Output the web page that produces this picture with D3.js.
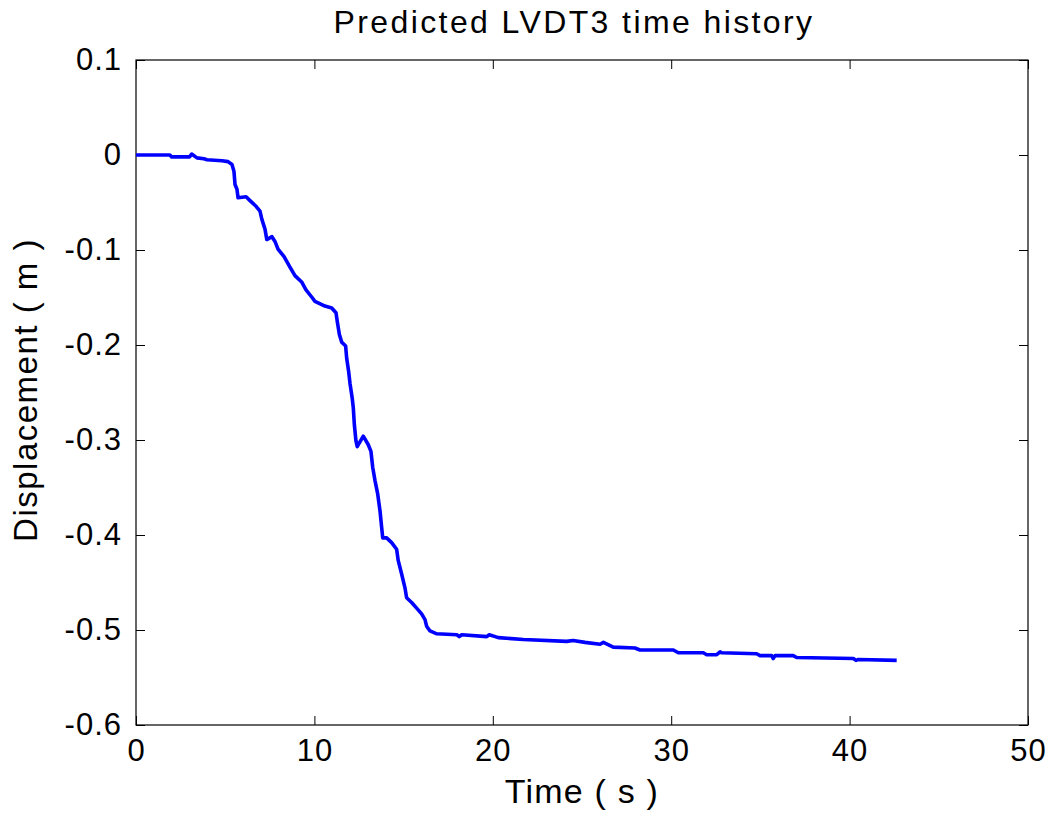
<!DOCTYPE html>
<html>
<head>
<meta charset="utf-8">
<script src="https://cdn.jsdelivr.net/npm/d3@7"></script>
<style>
  body { margin: 0; background: #fff; }
  svg { display: block; font-family: Arial, "Liberation Sans", sans-serif; }
</style>
</head>
<body>
<svg id="chart"></svg>
<script>
const width = 1053;
const height = 815;
const margin = { top: 60, right: 25, bottom: 90, left: 136 };

// time (s) and predicted displacement (m)
const timeS = [0, 1.9, 2.0, 3.0, 3.12, 3.42, 3.81, 3.98, 4.82, 5.16, 5.38, 5.49, 5.55, 5.66, 5.72,
  6.17, 6.39, 6.73, 6.95, 7.06, 7.23, 7.33, 7.62, 7.79, 7.96, 8.30, 8.63, 8.91, 9.30, 9.53, 9.87,
  10.03, 10.59, 10.97, 11.21, 11.28, 11.40, 11.53, 11.75, 11.81, 11.92, 12.0, 12.12, 12.18, 12.24,
  12.33, 12.40, 12.74, 13.02, 13.17, 13.27, 13.40, 13.55, 13.68, 13.77, 13.83, 14.05, 14.33, 14.61,
  14.70, 14.89, 15.08, 15.17, 15.45, 15.73, 16.01, 16.20, 16.29, 16.48, 16.86, 17.98, 18.12, 18.26,
  19.66, 19.80, 20.31, 21.71, 24.14, 24.5, 25.17, 26.01, 26.2, 26.75, 27.97, 28.25, 30.12, 30.40,
  31.80, 31.99, 32.55, 32.74, 32.83, 34.79, 34.98, 35.63, 35.72, 35.82, 36.84, 37.03, 40.21, 40.36,
  40.49, 42.64];
const dispM = [0, 0, -0.002, -0.002, 0.001, -0.003, -0.004, -0.005, -0.006, -0.007, -0.010, -0.017, -0.031, -0.036, -0.045,
  -0.044, -0.048, -0.054, -0.059, -0.068, -0.078, -0.089, -0.086, -0.091, -0.099, -0.107, -0.118, -0.127, -0.134, -0.142, -0.150,
  -0.154, -0.159, -0.161, -0.166, -0.175, -0.189, -0.197, -0.201, -0.214, -0.228, -0.241, -0.256, -0.266, -0.284,
  -0.301, -0.307, -0.296, -0.305, -0.312, -0.329, -0.343, -0.357, -0.375, -0.392, -0.403, -0.403, -0.408, -0.415,
  -0.427, -0.441, -0.456, -0.466, -0.471, -0.477, -0.483, -0.489, -0.496, -0.501, -0.504, -0.505, -0.507, -0.505,
  -0.507, -0.505, -0.508, -0.510, -0.512, -0.511, -0.513, -0.515, -0.513, -0.518, -0.519, -0.521, -0.521, -0.524,
  -0.524, -0.526, -0.526, -0.523, -0.524, -0.525, -0.527, -0.527, -0.530, -0.527, -0.527, -0.529, -0.530, -0.532,
  -0.531, -0.532];

const xTicks = [0, 10, 20, 30, 40, 50];
const yTicks = [0.1, 0, -0.1, -0.2, -0.3, -0.4, -0.5, -0.6];

const data = timeS.map((t, i) => ({ t, v: dispM[i] }));

const svg = d3.select("#chart")
  .attr("width", width)
  .attr("height", height);

const x = d3.scaleLinear()
  .domain([0, 50])
  .range([margin.left, width - margin.right]);

const y = d3.scaleLinear()
  .domain([-0.6, 0.1])
  .range([height - margin.bottom, margin.top]);

const tickFmt = d => d === 0 ? "0" : d3.format(".1f")(d).replace("−", "-");

// MATLAB-like box with inward ticks on all four sides
const axisStyle = g => {
  g.select(".domain").remove();
  g.selectAll(".tick line").attr("stroke", "#000");
  g.selectAll(".tick text")
    .attr("fill", "#000")
    .attr("font-family", "Arial, 'Liberation Sans', sans-serif")
    .attr("letter-spacing", 1)
    .attr("font-size", 31);
};

svg.append("g")
  .attr("transform", `translate(0,${height - margin.bottom})`)
  .call(d3.axisBottom(x).tickValues(xTicks).tickSize(-9).tickPadding(14).tickFormat(d3.format("d")))
  .call(axisStyle)
  .call(g => g.selectAll(".tick text").attr("dy", "0.72em"));

svg.append("g")
  .attr("transform", `translate(0,${margin.top})`)
  .call(d3.axisTop(x).tickValues(xTicks).tickSize(-9).tickFormat(""))
  .call(axisStyle);

svg.append("g")
  .attr("transform", `translate(${margin.left},0)`)
  .call(d3.axisLeft(y).tickValues(yTicks).tickSize(-9).tickPadding(14).tickFormat(tickFmt))
  .call(axisStyle);

svg.append("g")
  .attr("transform", `translate(${width - margin.right},0)`)
  .call(d3.axisRight(y).tickValues(yTicks).tickSize(-9).tickFormat(""))
  .call(axisStyle);

svg.append("rect")
  .attr("x", margin.left)
  .attr("y", margin.top)
  .attr("width", width - margin.left - margin.right)
  .attr("height", height - margin.top - margin.bottom)
  .attr("fill", "none")
  .attr("stroke", "#000")
  .attr("stroke-width", 1.2);

const line = d3.line()
  .x(d => x(d.t))
  .y(d => y(d.v));

svg.append("path")
  .datum(data)
  .attr("fill", "none")
  .attr("stroke", "#0000ff")
  .attr("stroke-width", 3.6)
  .attr("stroke-linejoin", "round")
  .attr("d", line);

svg.append("text")
  .attr("x", 574)
  .attr("y", 33)
  .attr("text-anchor", "middle")
  .attr("font-size", 32)
  .attr("letter-spacing", 2.4)
  .text("Predicted LVDT3 time history");

svg.append("text")
  .attr("x", 582)
  .attr("y", 803)
  .attr("text-anchor", "middle")
  .attr("font-size", 34)
  .attr("letter-spacing", 1.2)
  .text("Time ( s )");

svg.append("text")
  .attr("transform", `translate(37,${390}) rotate(-90)`)
  .attr("text-anchor", "middle")
  .attr("font-size", 33)
  .attr("letter-spacing", 1.5)
  .text("Displacement ( m )");
</script>
</body>
</html>
